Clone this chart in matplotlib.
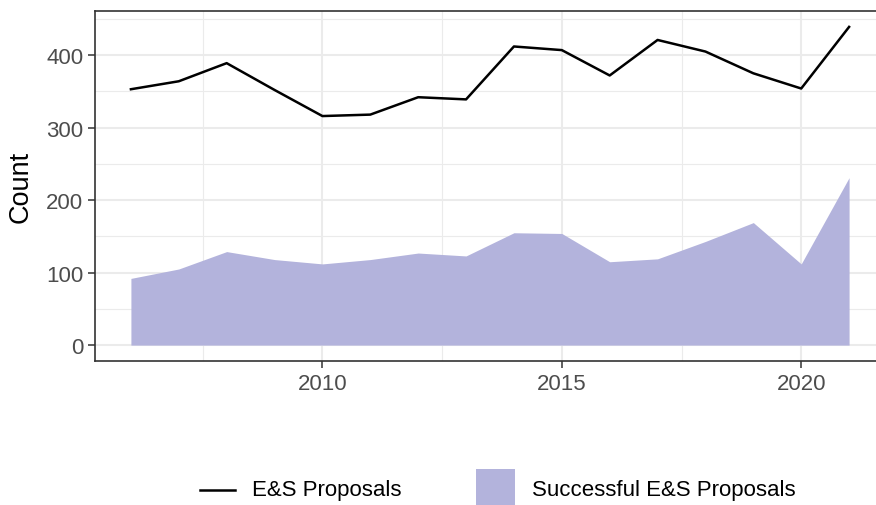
import matplotlib
matplotlib.use("Agg")
import matplotlib.pyplot as plt
from matplotlib.patches import Rectangle
from matplotlib.lines import Line2D
from matplotlib.ticker import MultipleLocator

plt.rcParams['font.family'] = ['Liberation Sans', 'DejaVu Sans']

years = list(range(2006, 2022))
proposals = [353, 364, 389, 352, 316, 318, 342, 339, 412, 407, 372, 421, 405, 375, 354, 439]
successful = [92, 105, 129, 118, 112, 118, 127, 123, 155, 154, 115, 119, 143, 169, 112, 231]
series_labels = ['E&S Proposals', 'Successful E&S Proposals']

W, H = 876, 506
fig = plt.figure(figsize=(W / 100, H / 100), dpi=100)
x0, x1 = 95, 885
y_top, y_bot = 12, 362
ax = fig.add_axes([x0 / W, 1 - y_bot / H, (x1 - x0) / W, (y_bot - y_top) / H])

fill_col = '#B3B3DC'
ax.fill_between(years, 0, successful, color=fill_col, linewidth=0, zorder=2)
ax.plot(years, proposals, color='black', linewidth=1.8, zorder=3)

ax.set_xlim(2005.25, 2021.75)
ax.set_ylim(-21.95, 460.95)
ax.xaxis.set_major_locator(MultipleLocator(5))
ax.xaxis.set_minor_locator(MultipleLocator(2.5))
ax.yaxis.set_major_locator(MultipleLocator(100))
ax.yaxis.set_minor_locator(MultipleLocator(50))
ax.grid(which='major', color='#EBEBEB', linewidth=1.5, zorder=0)
ax.grid(which='minor', color='#EBEBEB', linewidth=0.8, zorder=0)
ax.set_axisbelow(True)
for s in ['left', 'bottom', 'top', 'right']:
    ax.spines[s].set_color('#333333')
    ax.spines[s].set_linewidth(1.2)
ax.tick_params(which='minor', length=0)
ax.tick_params(which='major', length=5, width=1.1, color='#333333',
               labelsize=16, labelcolor='#4D4D4D', pad=3.5)
ax.set_ylabel('Count', fontsize=19.5, color='black')
ax.yaxis.label.set_va('center')
ax.yaxis.set_label_coords((21 - x0) / (x1 - x0), 0.5)

# legend drawn in figure pixel coordinates
def fx(px):
    return px / W

def fy(py):
    return 1 - py / H

fig.add_artist(Line2D([fx(200), fx(235)], [fy(491), fy(491)], color='black',
                      linewidth=1.8, transform=fig.transFigure))
fig.text(fx(252), fy(491), series_labels[0], fontsize=16, color='black',
         ha='left', va='center')
fig.add_artist(Rectangle((fx(476), fy(509)), (515 - 476) / W, (509 - 470) / H,
                         facecolor=fill_col, edgecolor='none',
                         transform=fig.transFigure))
fig.text(fx(532), fy(491), series_labels[1], fontsize=16, color='black',
         ha='left', va='center')

fig.savefig('out.png', dpi=100)
